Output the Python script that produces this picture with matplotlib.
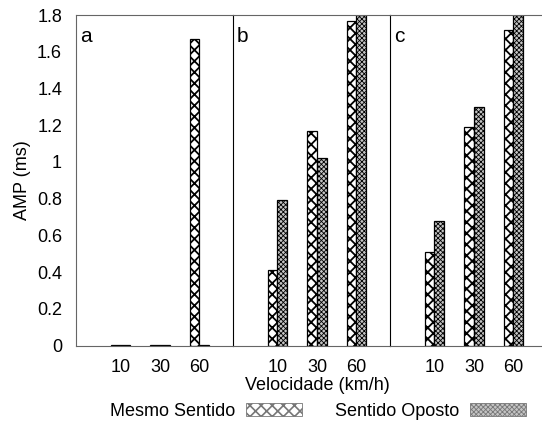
import matplotlib.pyplot as plt
from matplotlib.patches import Patch
import numpy as np

plt.rcParams['font.family'] = ['Liberation Sans', 'DejaVu Sans']

velocidades = ['10', '30', '60']
paineis = ['a', 'b', 'c']

# AMP (ms) por painel: mesmo sentido / sentido oposto
mesmo = [[0.005, 0.005, 1.67],
         [0.41, 1.17, 1.77],
         [0.51, 1.19, 1.72]]
oposto = [[0.005, 0.005, 0.005],
          [0.79, 1.02, 1.80],
          [0.68, 1.30, 1.80]]

# estilos de preenchimento das duas series
est_mesmo = dict(facecolor='white', hatch='xxx', lw_hatch=1.3)
est_oposto = dict(facecolor='#c4c4c4', hatch='xxxxxxx', lw_hatch=0.6)

fig = plt.figure(figsize=(5.42, 4.28), dpi=100)

W, H = 542, 428
x0, top, bottom = 76, 15, 345.5
pw = 157
x = np.arange(1, 4)
bw = 0.25
fs = 13


def barras(ax, pos, vals, est):
    with plt.rc_context({'hatch.linewidth': est['lw_hatch']}):
        ax.bar(pos, vals, bw, facecolor=est['facecolor'], edgecolor='black',
               hatch=est['hatch'], linewidth=0.9)


for i in range(3):
    ax = fig.add_axes([(x0 + i * pw) / W, (H - bottom) / H, pw / W, (bottom - top) / H])
    barras(ax, x - bw / 2, mesmo[i], est_mesmo)
    barras(ax, x + bw / 2, oposto[i], est_oposto)
    ax.set_xlim(-0.127, 3.85)
    ax.set_ylim(0, 1.8)
    ax.set_xticks(x)
    ax.set_xticklabels(velocidades, fontsize=fs)
    ax.tick_params(length=0, pad=10)
    for s in ax.spines.values():
        s.set_color('#666666')
        s.set_linewidth(0.8)
    ax.spines['right'].set_visible(False)
    if i == 0:
        ax.set_yticks(np.arange(0, 1.81, 0.2))
        ax.set_yticklabels(['0', '0.2', '0.4', '0.6', '0.8', '1', '1.2', '1.4', '1.6', '1.8'],
                           fontsize=fs)
        ax.set_ylabel('AMP (ms)', fontsize=fs, labelpad=4)
    else:
        ax.set_yticks([])
        ax.spines['left'].set_color('black')
    ax.text(0.025, 0.965, paineis[i], transform=ax.transAxes, fontsize=15,
            ha='left', va='top')

fig.text(317 / W, 1 - 385 / H, 'Velocidade (km/h)', fontsize=fs, ha='center', va='center')

h1 = Patch(facecolor='white', edgecolor='#777777', hatch='xxx', linewidth=0.6)
h2 = Patch(facecolor='#c4c4c4', edgecolor='#777777', hatch='xxxxxxx', linewidth=0.6)
leg = fig.legend([h1, h2], ['Mesmo Sentido', 'Sentido Oposto'], loc='center',
                 bbox_to_anchor=(318 / W, 1 - 411 / H), ncol=2, frameon=False,
                 markerfirst=False, fontsize=fs, handlelength=3.1, handleheight=0.7,
                 columnspacing=1.8, handletextpad=0.6)
for p, lw in zip(leg.legend_handles, [1.2, 0.6]):
    if hasattr(p, 'set_hatch_linewidth'):
        p.set_hatch_linewidth(lw)
    else:
        p._hatch_linewidth = lw

fig.savefig('out.png', dpi=100)
